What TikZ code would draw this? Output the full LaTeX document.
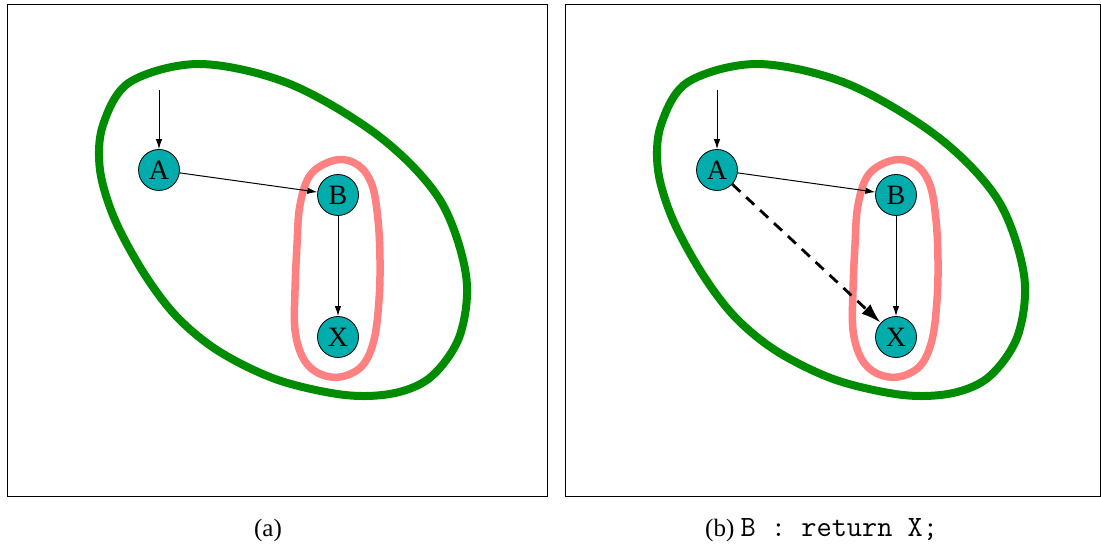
\documentclass[tikz,border=0pt]{standalone}
\usepackage{fontspec}
\setmainfont{Liberation Serif}
\usetikzlibrary{arrows.meta}
\definecolor{grn}{RGB}{0,140,0}
\definecolor{pnk}{RGB}{255,128,128}
\definecolor{tealn}{RGB}{0,172,172}
\tikzset{
  vtx/.style={circle, draw=black, line width=0.8pt, fill=tealn, minimum size=41pt, inner sep=0pt, font=\fontsize{28}{28}\selectfont},
  edg/.style={-{Latex[length=10pt,width=6.5pt]}, line width=1pt},
  newedg/.style={-{Latex[length=20pt,width=13pt]}, line width=2.8pt, dash pattern=on 11pt off 8pt},
  outerblob/.style={draw=grn, line width=8pt},
  innerblob/.style={draw=pnk, line width=7.5pt},
  frame/.style={draw=black, line width=1pt},
  captxt/.style={anchor=base west, inner sep=0pt, font=\fontsize{25}{25}\selectfont}
}
\begin{document}
\begin{tikzpicture}[x=1pt,y=-1pt]
\useasboundingbox (0,0) rectangle (1101,545);
\foreach \off/\s in {0/1,558/2}{
\begin{scope}[xshift=\off pt]
  \draw[outerblob] plot[smooth cycle, tension=0.55] coordinates {
    (200,64) (290,84) (380,137) (440,200) (466,275) (460,335) (432,376)
    (395,393) (345,395) (278,380) (220,352) (178,318) (145,275) (115,220)
    (100,170) (103,125) (130,82)};
  \draw[innerblob] plot[smooth cycle, tension=0.6] coordinates {
    (336,160) (358,165) (372,185) (378,220) (380,260) (379,300) (374,340)
    (362,366) (340,377) (318,373) (303,358) (295,330) (295,290) (297,245)
    (300,205) (311,174)};
  \node[vtx] (A\s) at (159,170) {A};
  \node[vtx] (B\s) at (338,195) {B};
  \node[vtx] (X\s) at (338,337) {X};
  \coordinate (in\s) at (159,90);
  \draw[edg] (in\s) -- (A\s);
  \draw[edg] (A\s) -- (B\s);
  \draw[edg] (B\s) -- (X\s);
\end{scope}
}
\draw[newedg] (A2) -- (X2);
\node[frame, minimum width=540pt, minimum height=492pt, anchor=north west, inner sep=0pt] (fa) at (7,4) {};
\node[frame, minimum width=535pt, minimum height=492pt, anchor=north west, inner sep=0pt] (fb) at (565,4) {};
\node[captxt, anchor=base] (ca) at (268,536) {(a)};
\node[captxt] (cb) at (705,536) {(b) {\fontsize{29.5}{30}\selectfont\ttfamily B : return X;}};
\end{tikzpicture}
\end{document}
